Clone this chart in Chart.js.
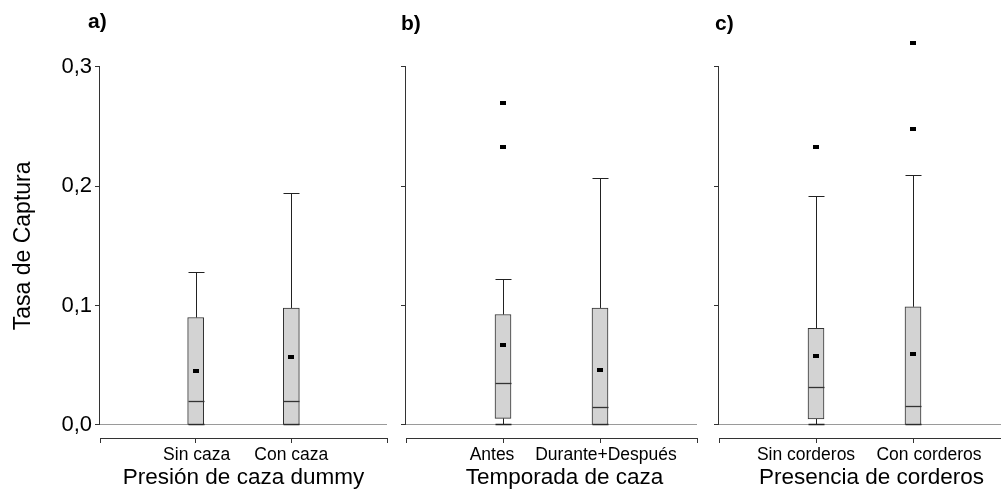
<!DOCTYPE html>
<html>
<head>
<meta charset="utf-8">
<script src="https://cdn.jsdelivr.net/npm/chart.js@4.4.1/dist/chart.umd.min.js"></script>
<style>
  html, body { margin: 0; padding: 0; background: #fff; overflow: hidden; }
  body { width: 1001px; height: 499px; position: relative; }
  canvas { position: absolute; top: 0; }
</style>
</head>
<body>
<canvas id="panelA" style="left:0px"></canvas>
<canvas id="panelB" style="left:390px"></canvas>
<canvas id="panelC" style="left:703px"></canvas>
<script>
// --- values ---
const yTicks = [0, 0.1, 0.2, 0.3];
const yTitle = 'Tasa de Captura';

const labelsA = ['Sin caza', 'Con caza'];
const minA    = [0, 0];
const q1A     = [0, 0];
const medA    = [0.020, 0.020];
const q3A     = [0.090, 0.098];
const maxA    = [0.128, 0.194];
const meanA   = [0.045, 0.057];
const outA    = [[], []];

const labelsB = ['Antes', 'Durante+Después'];
const minB    = [0, 0];
const q1B     = [0.0056, 0];
const medB    = [0.0355, 0.015];
const q3B     = [0.0925, 0.098];
const maxB    = [0.122, 0.207];
const meanB   = [0.067, 0.046];
const outB    = [[0.233, 0.270], []];

const labelsC = ['Sin corderos', 'Con corderos'];
const minC    = [0, 0];
const q1C     = [0.005, 0];
const medC    = [0.032, 0.016];
const q3C     = [0.081, 0.099];
const maxC    = [0.192, 0.209];
const meanC   = [0.058, 0.0595];
const outC    = [[0.233], [0.248, 0.320]];

const FONT = '"Liberation Sans", Arial, sans-serif';
const BOX_W = 16;

// small filled rectangle used for means and outliers
function markerCanvas(w, h) {
    const c = document.createElement('canvas');
    c.width = w; c.height = h;
    const g = c.getContext('2d');
    g.fillStyle = '#000';
    g.fillRect(0, 0, w, h);
    return c;
}
const marker = markerCanvas(6, 4);

// whiskers, caps, medians and the clipped y axis line
const boxParts = {
    id: 'boxParts',
    beforeDatasetsDraw(chart, args, opts) {
        const { ctx, scales: { x, y }, chartArea } = chart;
        const s = opts.stats;
        ctx.save();
        ctx.strokeStyle = '#222';
        ctx.lineWidth = 1;
        const line = (x1, y1, x2, y2) => {
            ctx.beginPath(); ctx.moveTo(x1, y1); ctx.lineTo(x2, y2); ctx.stroke();
        };
        s.q3.forEach((_, i) => {
            const cx = Math.round(x.getPixelForValue(i + 1)) + 0.5;
            const half = BOX_W / 2;
            const yMax = Math.round(y.getPixelForValue(s.max[i])) + 0.5;
            const yQ3 = y.getPixelForValue(s.q3[i]);
            const yQ1 = y.getPixelForValue(s.q1[i]);
            const yMin = Math.round(y.getPixelForValue(s.min[i])) - 0.5;
            line(cx, yQ3, cx, yMax);
            line(cx - half, yMax, cx + half, yMax);
            line(cx, yQ1, cx, yMin);
            ctx.lineWidth = 1.5;
            line(cx - half, yMin, cx + half, yMin);
            ctx.lineWidth = 1;
        });
        // y axis runs only from 0 to the last tick
        const ax = Math.round(chartArea.left) - 0.5;
        ctx.strokeStyle = '#333';
        line(ax, y.getPixelForValue(0), ax, y.getPixelForValue(yTicks[yTicks.length - 1]));
        ctx.restore();
    },
    afterDatasetsDraw(chart, args, opts) {
        const { ctx, scales: { x, y } } = chart;
        const s = opts.stats;
        ctx.save();
        ctx.strokeStyle = '#333';
        ctx.lineWidth = 1.3;
        s.med.forEach((v, i) => {
            const cx = Math.round(x.getPixelForValue(i + 1)) + 0.5;
            const yMed = Math.round(y.getPixelForValue(v)) + 0.5;
            ctx.beginPath();
            ctx.moveTo(cx - BOX_W / 2, yMed);
            ctx.lineTo(cx + BOX_W / 2, yMed);
            ctx.stroke();
        });
        ctx.restore();
    }
};

// category names, axis titles and panel letter
const panelText = {
    id: 'panelText',
    afterDraw(chart, args, opts) {
        const { ctx, chartArea, scales: { x, y } } = chart;
        ctx.save();
        ctx.fillStyle = '#000';
        ctx.textAlign = 'center';
        ctx.textBaseline = 'alphabetic';
        ctx.font = '17.5px ' + FONT;
        opts.labels.forEach((lab, i) => {
            ctx.fillText(lab, x.getPixelForValue(i + 1) + opts.labelShift[i], chartArea.bottom + 22);
        });
        ctx.font = '22.5px ' + FONT;
        ctx.fillText(opts.title, (chartArea.left + chartArea.right) / 2 + opts.titleShift, chartArea.bottom + 46);
        if (opts.yTitle) {
            // centred on the 0 .. 0.3 span of the axis
            const midY = (y.getPixelForValue(0) + y.getPixelForValue(yTicks[yTicks.length - 1])) / 2;
            ctx.save();
            ctx.translate(30, midY);
            ctx.rotate(-Math.PI / 2);
            ctx.font = '23px ' + FONT;
            ctx.fillText(opts.yTitle, 0, 0);
            ctx.restore();
        }
        ctx.textAlign = 'left';
        ctx.font = 'bold 21px ' + FONT;
        ctx.fillText(opts.letter, chartArea.left + opts.letterShift, opts.letterY);
        ctx.restore();
    }
};

function makePanel(id, cfg) {
    const el = document.getElementById(id);
    el.width = cfg.width;
    el.height = 499;
    el.style.width = cfg.width + 'px';
    el.style.height = '499px';

    const s = cfg.stats;
    const boxes = s.q3.map((v, i) => ({ x: i + 1, y: [s.q1[i], v] }));
    const means = s.mean.map((v, i) => ({ x: i + 1, y: v }));
    const outliers = [];
    s.out.forEach((list, i) => list.forEach(v => outliers.push({ x: i + 1, y: v })));

    return new Chart(el, {
        type: 'bar',
        data: {
            datasets: [
                {
                    data: boxes,
                    order: 2,
                    backgroundColor: '#d3d3d3',
                    borderColor: '#333',
                    borderWidth: 1,
                    borderSkipped: false,
                    barThickness: BOX_W
                },
                {
                    type: 'scatter',
                    data: means.concat(outliers),
                    order: 1,
                    pointStyle: marker,
                    pointRadius: 3,
                    clip: false
                }
            ]
        },
        options: {
            responsive: false,
            animation: false,
            events: [],
            layout: { padding: { top: 19, bottom: 0, left: 0, right: 5 } },
            plugins: {
                legend: { display: false },
                tooltip: { enabled: false },
                boxParts: { stats: s },
                panelText: {
                    labels: cfg.labels,
                    labelShift: cfg.labelShift,
                    title: cfg.title,
                    titleShift: cfg.titleShift,
                    yTitle: cfg.yTitle,
                    letter: cfg.letter,
                    letterShift: cfg.letterShift,
                    letterY: cfg.letterY
                }
            },
            scales: {
                x: {
                    type: 'linear',
                    min: 0,
                    max: 3,
                    offset: false,
                    afterBuildTicks: sc => { sc.ticks = [0, 1, 2, 3].map(v => ({ value: v })); },
                    afterFit: sc => { sc.height = 61; },
                    ticks: { display: false },
                    grid: { offset: false, drawOnChartArea: false, color: '#333', tickLength: 5 },
                    border: { display: true, color: '#333', width: 1 }
                },
                y: {
                    min: -0.0109,
                    max: 0.34,
                    afterBuildTicks: sc => { sc.ticks = yTicks.map(v => ({ value: v })); },
                    afterFit: sc => { sc.width = cfg.yWidth; },
                    ticks: {
                        display: cfg.showTickLabels,
                        padding: 3,
                        color: '#000',
                        font: { family: FONT, size: 22 },
                        callback: v => v.toFixed(1).replace('.', ',')
                    },
                    grid: {
                        color: c => (c.tick && c.tick.value === 0 ? '#9a9a9a' : 'rgba(0,0,0,0)'),
                        tickColor: '#333',
                        tickLength: 5
                    },
                    border: { display: false }
                }
            }
        },
        plugins: [boxParts, panelText]
    });
}

makePanel('panelA', {
    width: 392, yWidth: 100, showTickLabels: true,
    stats: { min: minA, q1: q1A, med: medA, q3: q3A, max: maxA, mean: meanA, out: outA },
    labels: labelsA, labelShift: [1, 0],
    title: 'Presión de caza dummy', titleShift: 0, yTitle: yTitle,
    letter: 'a)', letterShift: -12, letterY: 28
});
makePanel('panelB', {
    width: 312, yWidth: 16, showTickLabels: false,
    stats: { min: minB, q1: q1B, med: medB, q3: q3B, max: maxB, mean: meanB, out: outB },
    labels: labelsB, labelShift: [-11, 6],
    title: 'Temporada de caza', titleShift: 13,
    letter: 'b)', letterShift: -5, letterY: 30
});
makePanel('panelC', {
    width: 312, yWidth: 16, showTickLabels: false,
    stats: { min: minC, q1: q1C, med: medC, q3: q3C, max: maxC, mean: meanC, out: outC },
    labels: labelsC, labelShift: [-10, 16],
    title: 'Presencia de corderos', titleShift: 7,
    letter: 'c)', letterShift: -4, letterY: 30
});
</script>
</body>
</html>
